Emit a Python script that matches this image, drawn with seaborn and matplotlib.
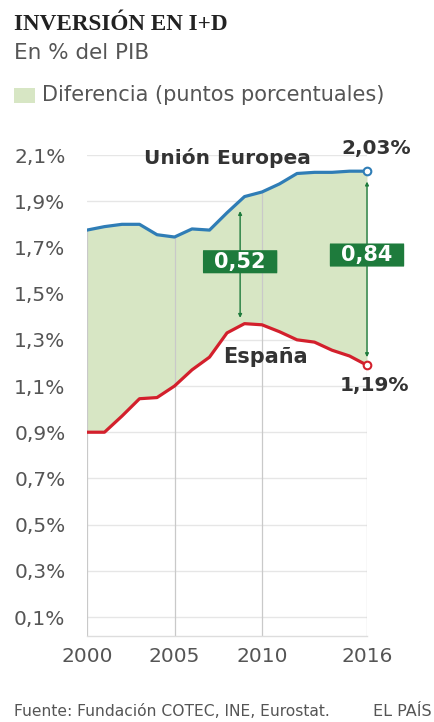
import numpy as np
import pandas as pd
import matplotlib
matplotlib.use("Agg")
import matplotlib.pyplot as plt
from matplotlib.patches import FancyBboxPatch
import seaborn as sns

years = list(range(2000, 2017))
ue = [1.775, 1.79, 1.80, 1.80, 1.755, 1.745, 1.78, 1.775, 1.85, 1.92, 1.94,
      1.975, 2.02, 2.025, 2.025, 2.03, 2.03]
espana = [0.90, 0.90, 0.97, 1.045, 1.05, 1.10, 1.17, 1.225, 1.33, 1.37, 1.365,
          1.335, 1.30, 1.29, 1.255, 1.23, 1.19]
ytick_vals = [0.1, 0.3, 0.5, 0.7, 0.9, 1.1, 1.3, 1.5, 1.7, 1.9, 2.1]
ytick_labels = ["0,1%", "0,3%", "0,5%", "0,7%", "0,9%", "1,1%", "1,3%", "1,5%",
                "1,7%", "1,9%", "2,1%"]
xtick_vals = [2000, 2005, 2010, 2016]
xtick_labels = ["2000", "2005", "2010", "2016"]
diff_years = [2008.75, 2016]
diff_labels = ["0,52", "0,84"]

sns.set_theme(style="white")
plt.rcParams['font.family'] = ['DejaVu Sans']

BLUE = "#2f7db6"
RED = "#d3202c"
FILL = "#d7e6c4"
DGREEN = "#1e7b3c"
TXT = "#555555"

df = pd.DataFrame({"year": years * 2, "value": ue + espana,
                   "serie": ["UE"] * len(years) + ["España"] * len(years)})

fig = plt.figure(figsize=(4.35, 7.22), dpi=100)
ax = fig.add_axes([0.2, 0.1198, 0.6437, 0.6655])

ax.fill_between(years, espana, ue, color=FILL, lw=0, zorder=1)
for yv in ytick_vals:
    ax.axhline(yv, color="#e6e6e6", lw=1.0, zorder=0.5)
for xv in xtick_vals:
    ax.vlines(xv, 0.02, np.interp(xv, years, ue), color="#c9c9c9", lw=0.9, zorder=1.5)

sns.lineplot(data=df, x="year", y="value", hue="serie",
             palette={"UE": BLUE, "España": RED}, lw=2.3, legend=False, ax=ax, zorder=3)
ax.plot([years[-1]], [ue[-1]], "o", ms=5.5, mfc="white", mec=BLUE, mew=1.5, zorder=4, clip_on=False)
ax.plot([years[-1]], [espana[-1]], "o", ms=5.5, mfc="white", mec=RED, mew=1.5, zorder=4, clip_on=False)

bw, bh = 4.25, 0.1
for dx, lab, ly in zip(diff_years, diff_labels, [1.638, 1.667]):
    top = np.interp(dx, years, ue) - 0.045
    bot = np.interp(dx, years, espana) + 0.035
    ax.annotate("", xy=(dx, bot), xytext=(dx, top),
                arrowprops=dict(arrowstyle="<|-|>", color=DGREEN, lw=1.0,
                                mutation_scale=5, shrinkA=0, shrinkB=0), zorder=2)
    ax.add_patch(FancyBboxPatch((dx - bw / 2, ly - bh / 2), bw, bh,
                                boxstyle="round,pad=0,rounding_size=0.012",
                                mutation_aspect=1 / 0.05 * 0.0043 * 10,
                                fc=DGREEN, ec="none", zorder=5, clip_on=False))
    ax.text(dx, ly, lab, ha="center", va="center", color="white", fontsize=15,
            fontweight="bold", zorder=6, clip_on=False)

ax.text(2008.05, 2.087, "Unión Europea", ha="center", va="center", fontsize=14.5,
        fontweight="bold", color="#333333", zorder=5)
ax.text(2016.55, 2.13, "2,03%", ha="center", va="center", fontsize=14.5,
        fontweight="bold", color="#333333", clip_on=False, zorder=5)
ax.text(2010.2, 1.226, "España", ha="center", va="center", fontsize=15,
        fontweight="bold", color="#333333", zorder=5)
ax.text(2016.45, 1.104, "1,19%", ha="center", va="center", fontsize=14.5,
        fontweight="bold", color="#333333", clip_on=False, zorder=5)

ax.set_xlim(2000, 2016)
ax.set_ylim(0.02, 2.1)
ax.set_yticks(ytick_vals)
ax.set_yticklabels(ytick_labels)
ax.set_xticks(xtick_vals)
ax.set_xticklabels(xtick_labels)
ax.tick_params(axis="both", length=0, labelsize=14.5, labelcolor=TXT)
ax.tick_params(axis="y", pad=15.5)
ax.tick_params(axis="x", pad=8)
ax.set_xlabel("")
ax.set_ylabel("")
for s in ["top", "right", "left"]:
    ax.spines[s].set_visible(False)
ax.spines["bottom"].set_color("#dddddd")
ax.spines["bottom"].set_linewidth(1.0)

fig.text(14 / 435, 1 - 25 / 722, "INVERSIÓN EN I+D", family="Liberation Serif",
         fontweight="bold", fontsize=16.7, color="#222222", va="center", ha="left")
fig.text(14 / 435, 1 - 53 / 722, "En % del PIB", fontsize=15.5, color=TXT,
         va="center", ha="left")
fig.patches.append(plt.Rectangle((14 / 435, 1 - 103 / 722), 21 / 435, 15 / 722,
                                 transform=fig.transFigure, fc=FILL, ec="none"))
fig.text(42 / 435, 1 - 95 / 722, "Diferencia (puntos porcentuales)", fontsize=15,
         color=TXT, va="center", ha="left")
fig.text(14 / 435, 1 - 712 / 722, "Fuente: Fundación COTEC, INE, Eurostat.", fontsize=11.2,
         color="#555555", va="center", ha="left")
fig.text(432 / 435, 1 - 712 / 722, "EL PAÍS", fontsize=11.5, color="#555555",
         va="center", ha="right")

fig.savefig("out.png", dpi=100, facecolor="white")
